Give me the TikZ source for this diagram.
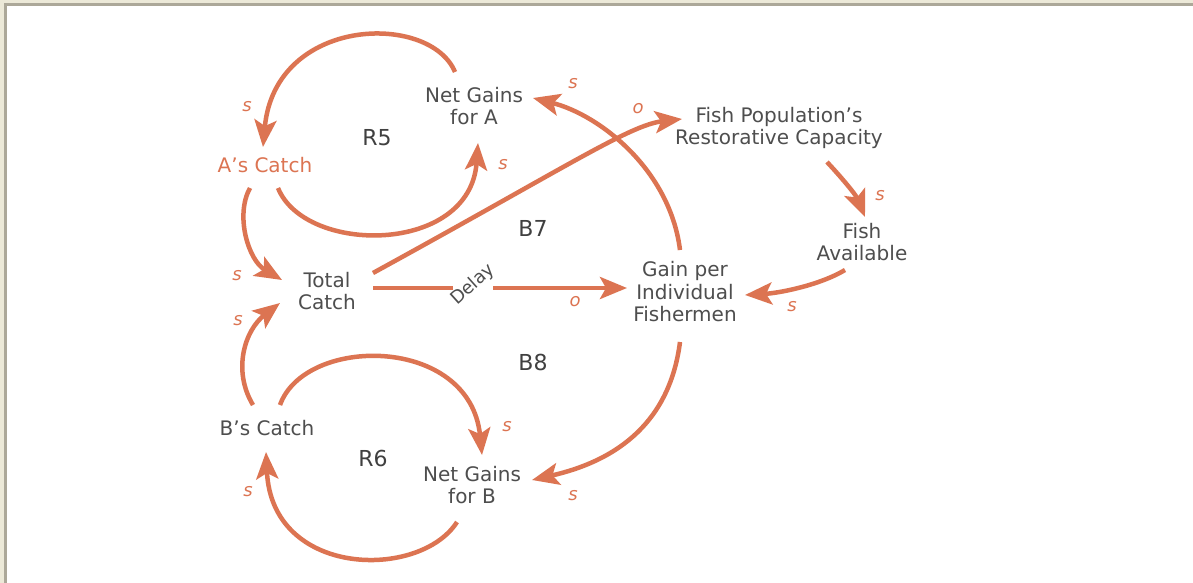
\documentclass[tikz,border=0pt]{standalone}
\usepackage{fontspec}
\setmainfont{DejaVu Sans}
\usetikzlibrary{arrows.meta}
\definecolor{loopc}{RGB}{220,116,82}
\definecolor{txtc}{RGB}{78,78,78}
\definecolor{namec}{RGB}{64,64,64}
\definecolor{framelight}{RGB}{236,233,216}
\definecolor{framedark}{RGB}{172,168,153}
\begin{document}
\begin{tikzpicture}[x=1pt,y=-1pt,
  concept/.style={align=center,inner sep=0pt,text=txtc,font=\fontsize{20}{22.5}\selectfont},
  loopname/.style={inner sep=0pt,text=namec,font=\fontsize{22}{24}\selectfont},
  pol/.style={inner sep=0pt,text=loopc,font=\fontsize{18}{18}\selectfont\itshape},
  delaylbl/.style={inner sep=0pt,text=txtc,font=\fontsize{18}{18}\selectfont},
  link/.style={draw=loopc,line width=4.5pt,-{Stealth[length=27pt,width=22pt,inset=6pt]}},
  plainlink/.style={draw=loopc,line width=4.5pt}]
\useasboundingbox (0,0) rectangle (1193,583);
\fill[white] (0,0) rectangle (1193,583);
% window frame
\fill[framelight] (0,0) rectangle (1193,3.5);
\fill[framelight] (0,0) rectangle (4,583);
\fill[framedark] (4,3.5) rectangle (1193,6.5);
\fill[framedark] (4,3.5) rectangle (7,583);

% concept nodes
\node[concept] (nga) at (474,106) {Net Gains\\for A};
\node[concept,text=loopc] (ac) at (265,165) {A’s Catch};
\node[concept] (fp) at (779,128) {Fish Population’s\\Restorative Capacity};
\node[concept] (fa) at (862,242) {Fish\\Available};
\node[concept] (gp) at (685,292) {Gain per\\Individual\\Fishermen};
\node[concept] (tc) at (327,291) {Total\\Catch};
\node[concept] (bc) at (267,428) {B’s Catch};
\node[concept] (ngb) at (472,485) {Net Gains\\for B};
\node[delaylbl,rotate=42] (delay) at (473,285) {Delay};

% loop names
\node[loopname] (r5) at (377,138) {R5};
\node[loopname] (b7) at (533,228) {B7};
\node[loopname] (b8) at (533,362) {B8};
\node[loopname] (r6) at (373,458) {R6};

% connectors
\draw[link] ([shift={(-19,-34)}]nga.center) .. controls (430,12) and (275,16) .. ([shift={(-2,-18)}]ac.center);
\draw[link] ([shift={(13,23)}]ac.center) .. controls (305,255) and (470,255) .. ([shift={(4,37)}]nga.center);
\draw[link] ([shift={(-15,23)}]ac.center) .. controls (235,215) and (248,260) .. ([shift={(-45,-11)}]tc.center);
\draw[link] ([shift={(-14,-23)}]bc.center) .. controls (232,370) and (245,330) .. ([shift={(-47,12)}]tc.center);
\draw[link] ([shift={(13,-23)}]bc.center) .. controls (305,335) and (470,335) .. ([shift={(10,-30)}]ngb.center);
\draw[link] ([shift={(-15,37)}]ngb.center) .. controls (420,580) and (272,578) .. ([shift={(-1,24)}]bc.center);
\draw[link] ([shift={(46,-18)}]tc.center) .. controls (570,165) and (630,125) .. ([shift={(-97,-9)}]fp.center);
\draw[plainlink] ([shift={(46,-3)}]tc.center) -- ([shift={(-20,3)}]delay.center);
\draw[link] ([shift={(20,3)}]delay.center) -- ([shift={(-58,-4)}]gp.center);
\draw[link] ([shift={(-5,-42)}]gp.center) .. controls (670,170) and (600,115) .. ([shift={(59,-8)}]nga.center);
\draw[link] ([shift={(-5,50)}]gp.center) .. controls (670,420) and (620,460) .. ([shift={(60,-5)}]ngb.center);
\draw[link] ([shift={(48,34)}]fp.center) .. controls (842,178) and (856,195) .. ([shift={(3,-25)}]fa.center);
\draw[link] ([shift={(-17,28)}]fa.center) .. controls (820,285) and (780,293) .. ([shift={(60,3)}]gp.center);

% polarity labels
\node[pol] (p1) at (247,107) {s};
\node[pol] (p2) at (503,165) {s};
\node[pol] (p3) at (237,276) {s};
\node[pol] (p4) at (238,321) {s};
\node[pol] (p5) at (507,427) {s};
\node[pol] (p6) at (248,492) {s};
\node[pol] (p7) at (638,109) {o};
\node[pol] (p8) at (575,302) {o};
\node[pol] (p9) at (573,84) {s};
\node[pol] (p10) at (573,496) {s};
\node[pol] (p11) at (880,196) {s};
\node[pol] (p12) at (792,307) {s};
\end{tikzpicture}
\end{document}
